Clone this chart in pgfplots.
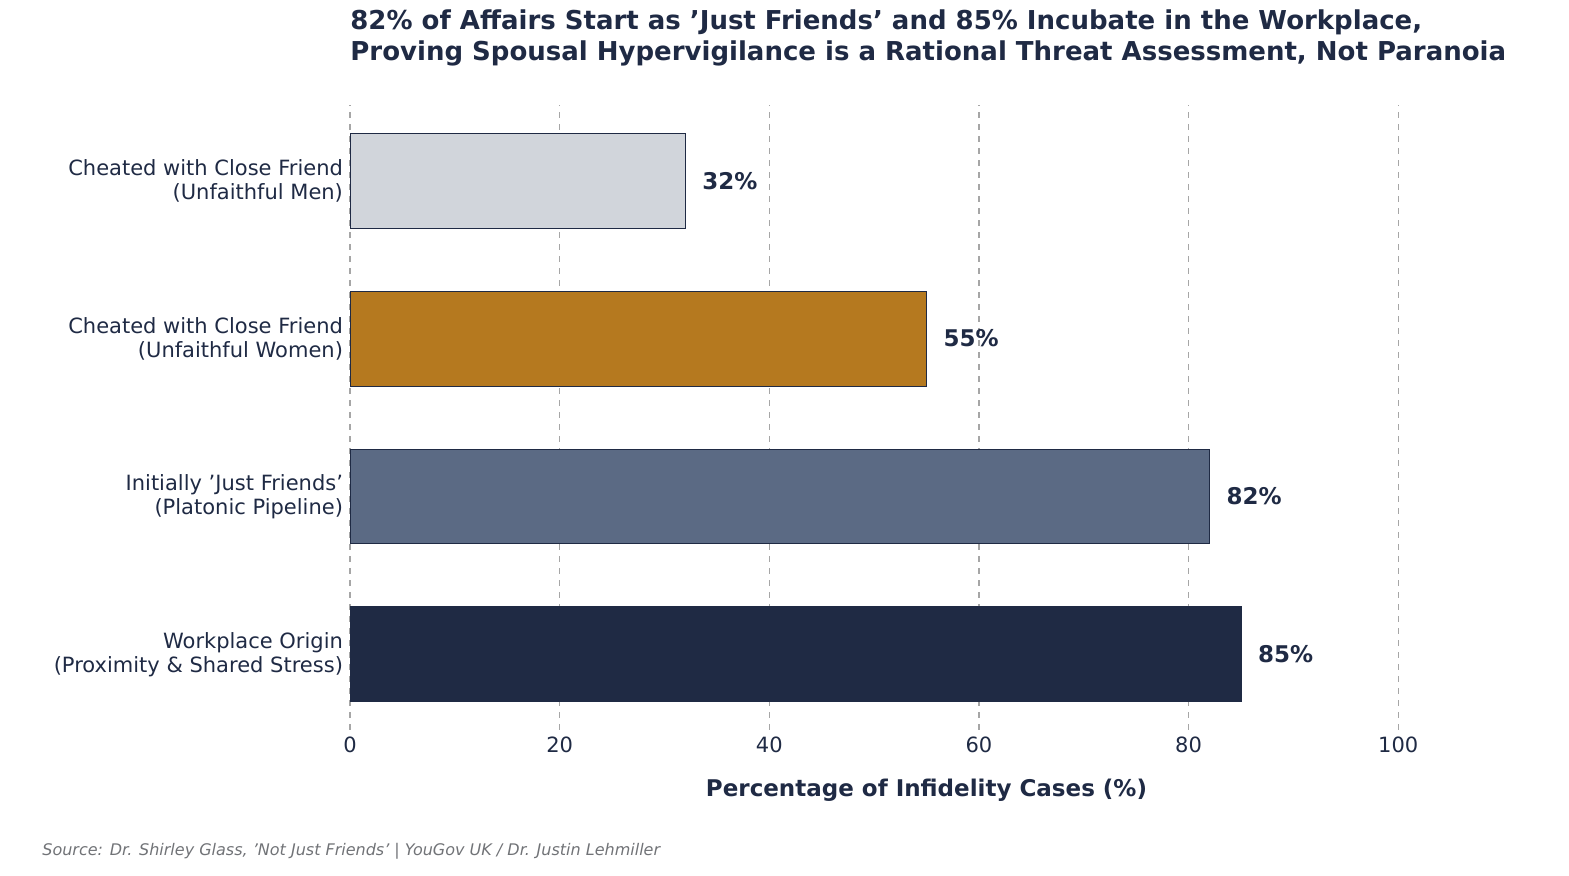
\documentclass[border=0pt]{standalone}
\usepackage{pgfplots}
\pgfplotsset{compat=1.18}
\usepackage{fontspec}
\setmainfont{DejaVu Sans}
\definecolor{txt}{HTML}{1F2A44}
\definecolor{cA}{HTML}{D1D5DB}
\definecolor{cB}{HTML}{B5791F}
\definecolor{cC}{HTML}{5B6A84}
\definecolor{cD}{HTML}{1F2A44}
\begin{document}
\begin{tikzpicture}
\useasboundingbox (-175pt,-73pt) rectangle (609.5pt,365pt);
\begin{axis}[at={(0,0)},anchor=south west,scale only axis,
 width=576.5pt,height=312.5pt,
 xmin=0,xmax=110,ymin=-0.48,ymax=3.48,
 xbar, bar width=0.6, bar shift=0pt,
 axis line style={draw=none},
 xtick={0,20,...,100}, ytick={0,1,2,3},
 yticklabels={{Workplace Origin\\(Proximity \& Shared Stress)},{Initially 'Just Friends'\\(Platonic Pipeline)},{Cheated with Close Friend\\(Unfaithful Women)},{Cheated with Close Friend\\(Unfaithful Men)}},
 yticklabel style={align=right,font=\fontsize{10.5}{12}\selectfont,text=txt},
 xticklabel style={font=\fontsize{10.5}{12}\selectfont,text=txt},
 major tick length=0pt,
 /pgf/number format/assume math mode=true,
 xmajorgrids, grid style={dashed,gray!70,line width=0.6pt},
 xlabel={\textbf{Percentage of Infidelity Cases (\%)}},
 xlabel style={font=\fontsize{11.5}{13}\selectfont,text=txt,yshift=-6pt},
 nodes near coords={\textbf{\pgfmathprintnumber{\pgfplotspointmeta}\%}},
 point meta=x,
 nodes near coords style={font=\fontsize{11.5}{13}\selectfont,text=txt,anchor=west,xshift=5pt},
 clip=false]
\addplot[fill=cA,draw=txt,line width=0.4pt] coordinates {(32,3)};
\addplot[fill=cB,draw=txt,line width=0.4pt] coordinates {(55,2)};
\addplot[fill=cC,draw=txt,line width=0.4pt] coordinates {(82,1)};
\addplot[fill=cD,draw=txt,line width=0.4pt] coordinates {(85,0)};
\node[anchor=south west,align=left,inner sep=0pt,text=txt,font=\bfseries\fontsize{13}{15.5}\selectfont] at ([yshift=19pt]rel axis cs:0,1) {82\% of Affairs Start as 'Just Friends' and 85\% Incubate in the Workplace,\\Proving Spousal Hypervigilance is a Rational Threat Assessment, Not Paranoia};
\end{axis}
\node[anchor=base west,inner sep=0pt,text=gray!85!txt,font=\itshape\fontsize{8}{10}\selectfont] at (-154pt,-63pt) {Source: Dr. Shirley Glass, 'Not Just Friends' | YouGov UK / Dr. Justin Lehmiller};
\end{tikzpicture}
\end{document}
